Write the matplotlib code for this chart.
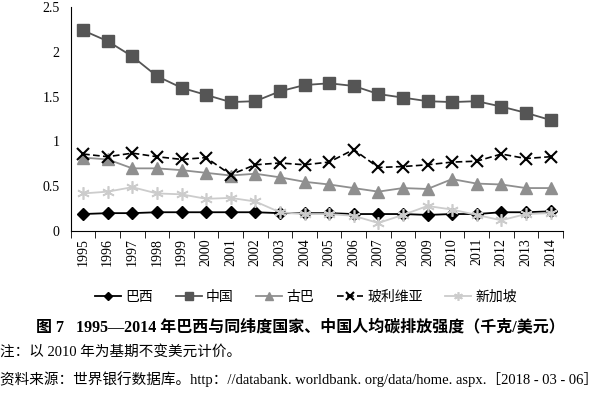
import matplotlib
matplotlib.use("Agg")
import matplotlib.pyplot as plt
import numpy as np

plt.rcParams["font.family"] = ["Liberation Serif", "Noto Sans CJK SC"]

years = [str(y) for y in range(1995, 2015)]
brazil = [0.19, 0.20, 0.20, 0.21, 0.21, 0.21, 0.21, 0.21, 0.20, 0.20,
          0.20, 0.19, 0.19, 0.19, 0.18, 0.19, 0.19, 0.21, 0.21, 0.22]
china = [2.24, 2.12, 1.95, 1.73, 1.60, 1.52, 1.44, 1.45, 1.56, 1.63,
         1.65, 1.62, 1.53, 1.49, 1.45, 1.44, 1.45, 1.39, 1.32, 1.24]
cuba = [0.82, 0.80, 0.70, 0.70, 0.68, 0.65, 0.62, 0.64, 0.60, 0.55,
        0.52, 0.48, 0.44, 0.48, 0.47, 0.58, 0.53, 0.52, 0.48, 0.48]
bolivia = [0.86, 0.83, 0.87, 0.83, 0.80, 0.82, 0.63, 0.74, 0.76, 0.74,
           0.77, 0.91, 0.71, 0.72, 0.74, 0.77, 0.78, 0.86, 0.81, 0.83]
singapore = [0.42, 0.44, 0.49, 0.42, 0.41, 0.36, 0.37, 0.33, 0.21, 0.19,
             0.19, 0.17, 0.09, 0.18, 0.28, 0.24, 0.18, 0.12, 0.19, 0.20]

fig = plt.figure(figsize=(6, 3.97), dpi=100)
ax = fig.add_axes([0.118, 0.418, 0.82, 0.564])
x = np.arange(len(years))

ax.plot(x, brazil, color="black", lw=1.3, marker="D", ms=6, label="巴西")
ax.plot(x, china, color="#555555", lw=1.3, marker="s", ms=8, label="中国")
ax.plot(x, cuba, color="#8f8f8f", lw=1.3, marker="^", ms=8, label="古巴")
ax.plot(x, bolivia, color="black", lw=1.2, ls=(0, (4, 2)), marker="x", ms=8,
        mew=1.5, label="玻利维亚")
ax.plot(x, singapore, color="#cccccc", lw=1.3, marker=(6, 2, 0), ms=9,
        mew=1.2, label="新加坡")

ax.set_xlim(-0.5, len(years) - 0.5)
ax.set_ylim(0, 2.5)
ax.set_yticks([0, 0.5, 1, 1.5, 2, 2.5])
ax.set_yticklabels(["0", "0.5", "1", "1.5", "2", "2.5"], fontsize=10)
ax.set_xticks(x)
ax.set_xticklabels(years, rotation=90, fontsize=10)
ax.tick_params(axis="x", which="major", length=0, pad=5)
ax.set_xticks(np.arange(-0.5, len(years)), minor=True)
ax.tick_params(axis="x", which="minor", length=5, direction="out")
ax.tick_params(axis="y", length=0, pad=8)
for s in ["top", "right"]:
    ax.spines[s].set_visible(False)

fig.legend(loc="center", bbox_to_anchor=(0.51, 0.252), ncol=5, frameon=False,
           handlelength=1.9, columnspacing=1.6, handletextpad=0.3, markerscale=0.7,
           prop={"family": ["Noto Sans CJK SC"], "size": 10})

fig.text(0.5, 0.176, "图 7   1995—2014 年巴西与同纬度国家、中国人均碳排放强度（千克/美元）",
         ha="center", va="center", fontsize=11.5, fontweight="bold")
fig.text(0.0, 0.113, "注：以 2010 年为基期不变美元计价。", ha="left", va="center", fontsize=10.5)
fig.text(0.0, 0.045,
         "资料来源：世界银行数据库。http：//databank. worldbank. org/data/home. aspx.［2018 - 03 - 06］",
         ha="left", va="center", fontsize=10.5)

fig.savefig("out.png", dpi=100)
